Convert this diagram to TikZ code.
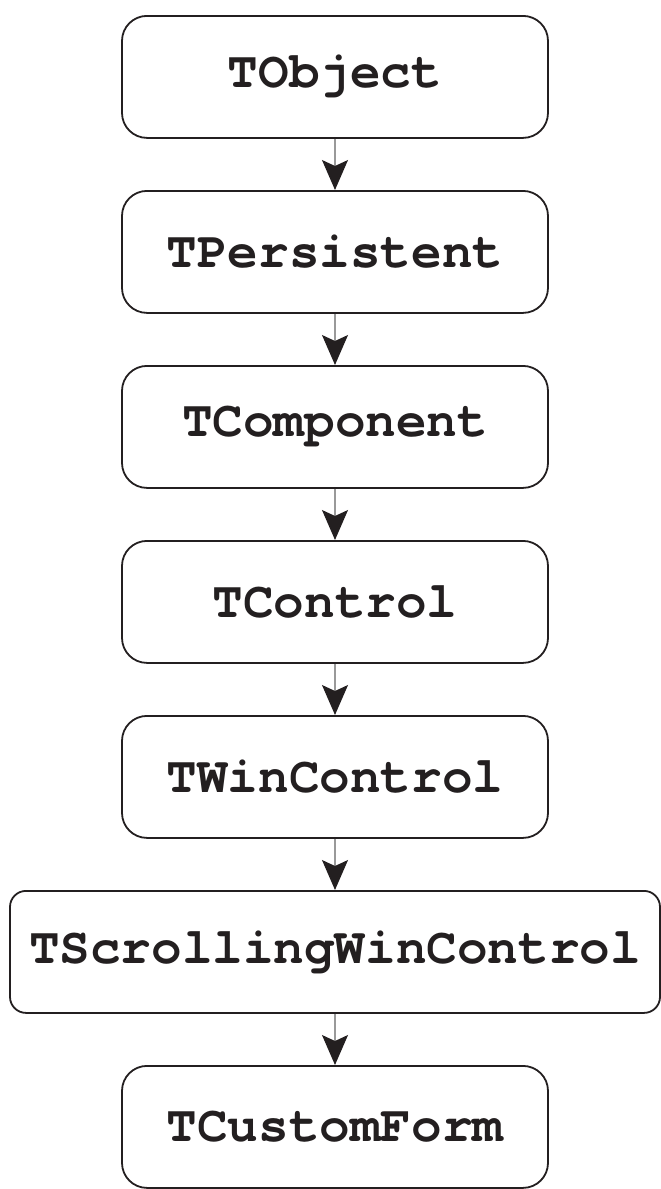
\documentclass[tikz,border=0pt]{standalone}
\usepackage{fontspec}
\setmonofont{TeX Gyre Cursor}
\usetikzlibrary{arrows.meta}
\definecolor{ink}{HTML}{231F20}
\begin{document}
\begin{tikzpicture}[x=1pt,y=-1pt,
  cls/.style={draw=ink, line width=1.8pt, rounded corners=25pt, minimum width=426pt, minimum height=122pt, inner sep=0pt, font=\fontsize{51}{60}\selectfont\ttfamily\bfseries, text=ink, anchor=north},
  wide/.style={cls, minimum width=650pt, rounded corners=16pt},
  inh/.style={draw=gray!80, line width=1.3pt, -{Stealth[length=30pt,width=26pt,inset=6pt,color=ink]}}]
\useasboundingbox (0,0) rectangle (661,1189);
\node[cls] (a) at (335,15) {TObject};
\node[cls] (b) at (335,190) {TPersistent};
\node[cls] (c) at (335,365) {TComponent};
\node[cls] (d) at (335,540) {TControl};
\node[cls] (e) at (335,715) {TWinControl};
\node[wide] (f) at (335,890) {TScrollingWinControl};
\node[cls] (g) at (335,1065) {TCustomForm};
\draw[inh] (a) -- (b);
\draw[inh] (b) -- (c);
\draw[inh] (c) -- (d);
\draw[inh] (d) -- (e);
\draw[inh] (e) -- (f);
\draw[inh] (f) -- (g);
\end{tikzpicture}
\end{document}
